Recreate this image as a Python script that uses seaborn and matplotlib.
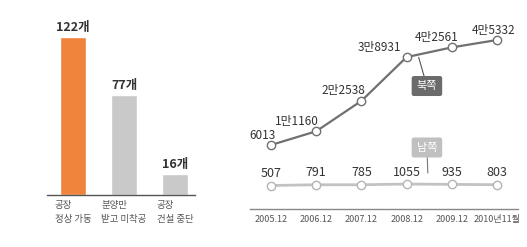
import matplotlib
matplotlib.use("Agg")
import matplotlib.pyplot as plt
import seaborn as sns
import numpy as np
import pandas as pd

# ---- data ----
bar_cats = ["공장\n정상 가동", "분양만\n받고 미착공", "공장\n건설 중단"]
bar_vals = [122, 77, 16]
bar_colors = ["#F0843C", "#C9C9C9", "#C9C9C9"]

periods = ["2005.12", "2006.12", "2007.12", "2008.12", "2009.12", "2010년11월"]
north = [6013, 11160, 22538, 38931, 42561, 45332]
south = [507, 791, 785, 1055, 935, 803]

sns.set_theme(style="white")
plt.rcParams["font.family"] = ["Noto Sans CJK KR", "DejaVu Sans"]

fig = plt.figure(figsize=(5.27, 2.47), dpi=100)

# ---- left: bar chart ----
ax1 = fig.add_axes([0.0892, 0.2105, 0.2808, 0.7328])
df_bar = pd.DataFrame({"cat": bar_cats, "val": bar_vals})
sns.barplot(data=df_bar, x="cat", y="val", hue="cat", palette=bar_colors,
            width=0.51, saturation=1, legend=False, ax=ax1)
ax1.set_xlim(-0.51, 2.39)
ax1.set_ylim(0, 140)
for s in ["top", "right", "left"]:
    ax1.spines[s].set_visible(False)
ax1.spines["bottom"].set_color("#555555")
ax1.spines["bottom"].set_linewidth(1)
ax1.set_yticks([])
ax1.set_xlabel("")
ax1.set_ylabel("")
ax1.set_xticks(range(len(bar_cats)))
ax1.set_xticklabels(bar_cats, fontsize=6.8, color="#555555", linespacing=1.75)
for t in ax1.get_xticklabels():
    t.set_multialignment("left")
ax1.tick_params(axis="x", length=0, pad=4)
for i, v in enumerate(bar_vals):
    ax1.text(i, v + 2.5, f"{v}개", ha="center", va="bottom", fontsize=9,
             fontweight="bold", color="#333333")

# ---- right: line chart ----
ax2 = fig.add_axes([0.4744, 0.1538, 0.5085, 0.8057])
idx = list(range(len(periods)))
sns.lineplot(x=idx, y=north, ax=ax2, color="#707070", lw=1.6, marker="o",
             markersize=6, markerfacecolor="white", markeredgecolor="#707070",
             markeredgewidth=1)
ax2.set_xlim(-0.465, 5.465)
ax2.set_ylim(-17955, 56567)

ax3 = ax2.twinx()
sns.lineplot(x=idx, y=south, ax=ax3, color="#C2C2C2", lw=2, marker="o",
             markersize=6, markerfacecolor="white", markeredgecolor="#B5B5B5",
             markeredgewidth=1)
ax3.set_ylim(-8294, 66228)

for a in (ax2, ax3):
    for s in ["top", "right", "left", "bottom"]:
        a.spines[s].set_visible(False)
    a.set_yticks([])
    a.set_ylabel("")
    a.set_xlabel("")
ax2.spines["bottom"].set_visible(True)
ax2.spines["bottom"].set_color("#888888")
ax2.spines["bottom"].set_linewidth(1)
ax2.set_xticks(idx)
ax2.set_xticklabels(periods, fontsize=6.5, color="#555555")
ax2.tick_params(axis="x", direction="in", length=6, width=1, color="#888888", pad=4)


def fmt(v):
    return f"{v // 10000}만{v % 10000}" if v >= 10000 else str(v)


north_dx = [-9, -19, -18, -27, -15, -3]
for i, v in enumerate(north):
    ax2.annotate(fmt(v), (i, v), xytext=(north_dx[i], 10), textcoords="offset pixels",
                 ha="center", va="center", fontsize=8.5, color="#333333")
for i, v in enumerate(south):
    ax3.annotate(str(v), (i, v), xytext=(0, 12), textcoords="offset pixels",
                 ha="center", va="center", fontsize=9, color="#333333")

# callouts
ax2.annotate("북쪽", xy=(3.25, np.interp(3.25, idx, north)), xytext=(3.45, 28100),
             ha="center", va="center", fontsize=8, color="white",
             bbox=dict(boxstyle="round,pad=0.45,rounding_size=0.2", fc="#6B6B6B", ec="none"),
             arrowprops=dict(arrowstyle="-", color="#555555", lw=0.8, shrinkA=0, shrinkB=2))
ax3.annotate("남쪽", xy=(3.47, 5200), xytext=(3.45, 14738),
             ha="center", va="center", fontsize=8, color="white",
             bbox=dict(boxstyle="round,pad=0.45,rounding_size=0.2", fc="#C0C0C0", ec="none"),
             arrowprops=dict(arrowstyle="-", color="#777777", lw=0.8, shrinkA=0, shrinkB=0))

fig.savefig("out.png", dpi=100)
